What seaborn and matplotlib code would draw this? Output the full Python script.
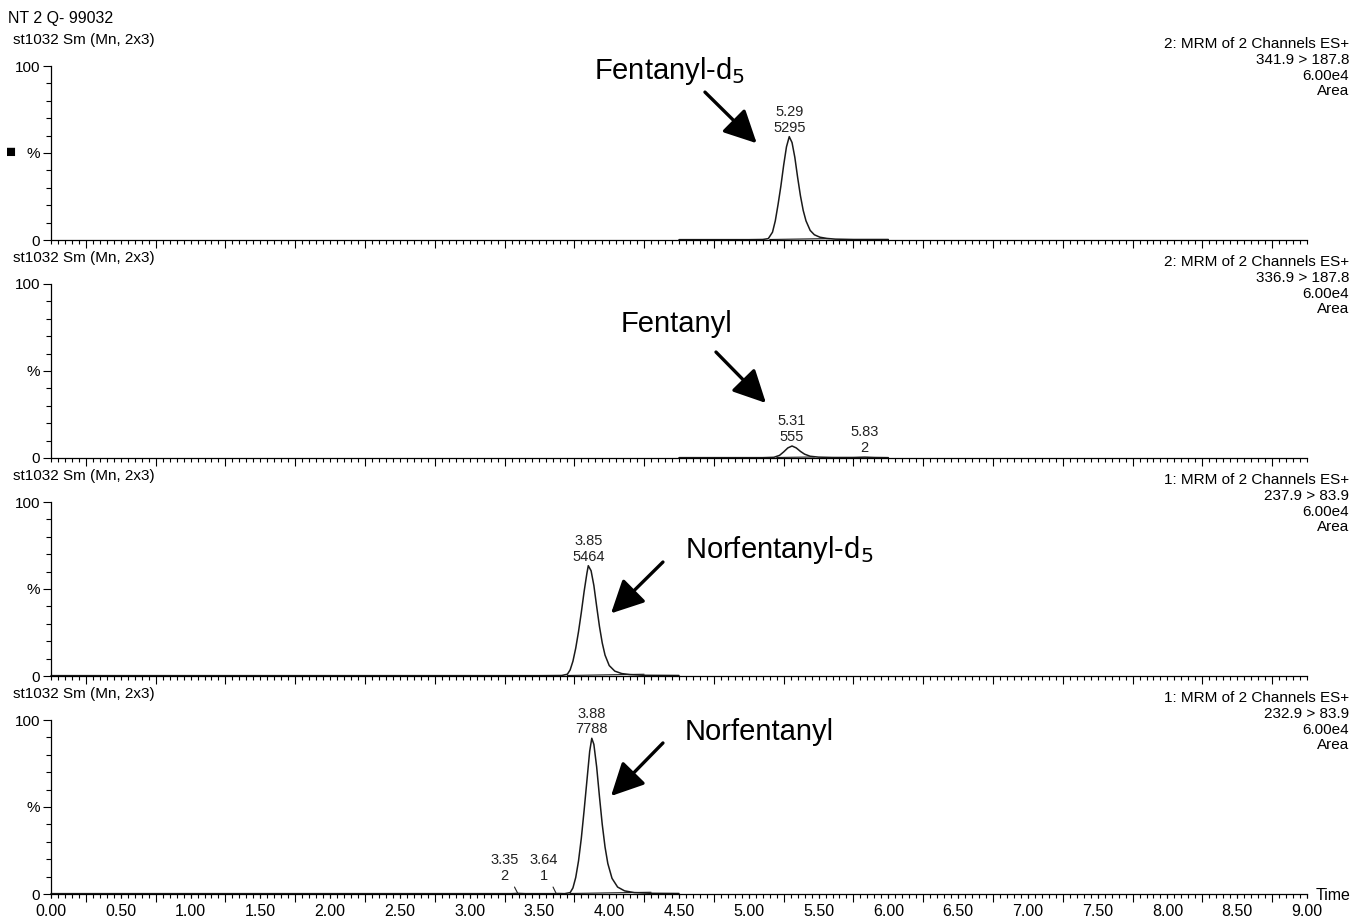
import matplotlib
matplotlib.use("Agg")
import matplotlib.pyplot as plt
import numpy as np
import pandas as pd
import seaborn as sns
from matplotlib.ticker import MultipleLocator, FixedLocator, FixedFormatter

sns.set_style("ticks")
plt.rcParams["font.family"] = ["Liberation Sans", "DejaVu Sans"]
plt.rcParams["text.color"] = "black"
plt.rcParams["xtick.color"] = "black"
plt.rcParams["ytick.color"] = "black"
plt.rcParams["axes.edgecolor"] = "black"

# ---------------- text content ----------------
sample_title = "NT 2 Q- 99032"
trace_header = "st1032 Sm (Mn, 2x3)"
compounds = ["Fentanyl-d$_5$", "Fentanyl", "Norfentanyl-d$_5$", "Norfentanyl"]
functions = ["2: MRM of 2 Channels ES+", "2: MRM of 2 Channels ES+",
             "1: MRM of 2 Channels ES+", "1: MRM of 2 Channels ES+"]
transitions = ["341.9 > 187.8", "336.9 > 187.8", "237.9 > 83.9", "232.9 > 83.9"]
full_scale = ["6.00e4", "6.00e4", "6.00e4", "6.00e4"]
y_tick_labels = ["0", "%", "100"]
x_tick_values = [0.0, 0.5, 1.0, 1.5, 2.0, 2.5, 3.0, 3.5, 4.0, 4.5,
                 5.0, 5.5, 6.0, 6.5, 7.0, 7.5, 8.0, 8.5, 9.0]

# ---------------- chromatogram traces (time min, % of full scale) ----------------
t_fd5 = [4.50, 5.00, 5.10, 5.14, 5.17, 5.19, 5.21, 5.23, 5.25, 5.27, 5.29, 5.31, 5.33,
         5.35, 5.37, 5.39, 5.41, 5.44, 5.47, 5.51, 5.56, 5.62, 5.75, 6.00]
y_fd5 = [0.2, 0.2, 0.3, 0.8, 4.5, 11, 20.5, 31, 43, 53.5, 59.4, 56, 47.5,
         36, 25.5, 17, 11, 5.5, 3, 1.6, 0.9, 0.5, 0.3, 0.3]

t_fen = [4.50, 5.10, 5.18, 5.22, 5.25, 5.28, 5.31, 5.34, 5.37, 5.40, 5.44, 5.50,
         5.60, 5.75, 5.83, 5.90, 6.00]
y_fen = [0.2, 0.2, 0.4, 1.5, 3.5, 5.8, 6.9, 5.8, 3.8, 2.2, 1.0, 0.5,
         0.3, 0.3, 0.5, 0.3, 0.2]

t_nfd5 = [0.00, 3.50, 3.66, 3.70, 3.72, 3.74, 3.76, 3.78, 3.80, 3.82, 3.84, 3.85,
          3.87, 3.89, 3.91, 3.93, 3.95, 3.97, 4.00, 4.04, 4.09, 4.15, 4.25, 4.50]
y_nfd5 = [0.2, 0.2, 0.3, 1.0, 3.5, 8.5, 16, 25.5, 36.5, 48.5, 59, 63.4,
          60.5, 52, 40, 28.5, 19, 12, 6, 2.8, 1.4, 0.8, 0.4, 0.3]

t_nf = [0.00, 3.30, 3.35, 3.40, 3.60, 3.64, 3.68, 3.72, 3.74, 3.76, 3.78, 3.80, 3.82,
        3.84, 3.86, 3.875, 3.89, 3.91, 3.93, 3.95, 3.97, 3.99, 4.02, 4.06, 4.11,
        4.18, 4.30, 4.50]
y_nf = [0.2, 0.2, 0.35, 0.2, 0.2, 0.3, 0.2, 0.8, 3.5, 9.5, 19, 32, 48,
        65, 82, 89.5, 86, 73, 56, 40, 27, 17.5, 9, 4, 1.8,
        0.8, 0.4, 0.3]

# integration baselines (start/end time, %)
base_t = [[5.15, 5.58], [5.20, 5.47], [3.70, 4.25], [3.72, 4.30]]
base_y = [[0.3, 0.8], [0.3, 0.6], [0.3, 1.0], [0.3, 1.0]]

# peak labels: (rt, area, apex time, apex %)
peaks = [
    [("5.29", "5295", 5.29, 59.4)],
    [("5.31", "555", 5.31, 6.9), ("5.83", "2", 5.83, 0.5)],
    [("3.85", "5464", 3.85, 63.4)],
    [("3.88", "7788", 3.875, 89.5)],
]
# small labelled peaks with leader lines (rt, area, point time, point %, label time, label %)
minor_peaks = [("3.35", "2", 3.345, 0.3, 3.25, 6.6), ("3.64", "1", 3.62, 0.3, 3.53, 6.6)]

# compound label (time, %, ha) and arrow (tail t, tail %, head t, head %)
comp_label_pos = [(4.43, 92.4, "center"), (4.48, 72.4, "center"),
                  (4.543, 67.8, "left"), (4.543, 88.5, "left")]
arrows = [(4.686, 85.0, 5.057, 55.6), (4.765, 60.9, 5.123, 31.6),
          (4.385, 65.5, 4.013, 36.0), (4.385, 86.8, 4.013, 56.3)]

traces = [(t_fd5, y_fd5), (t_fen, y_fen), (t_nfd5, y_nfd5), (t_nf, y_nf)]

# ---------------- layout ----------------
W, H = 1351, 918
left_px, right_px = 51, 1307
tops = [66, 284, 502, 720]
ph = 174
line_col = "#1a1a1a"

fig = plt.figure(figsize=(W / 100, H / 100), dpi=100)
fig.patch.set_facecolor("white")

fig.text(8 / W, 1 - 18 / H, sample_title, ha="left", va="center", fontsize=11.5)

for i in range(4):
    top = tops[i]
    ax = fig.add_axes([left_px / W, 1 - (top + ph) / H, (right_px - left_px) / W, ph / H])
    ax.set_facecolor("none")
    df = pd.DataFrame({"time": traces[i][0], "pct": traces[i][1]})
    sns.lineplot(data=df, x="time", y="pct", ax=ax, color=line_col, lw=1.1,
                 estimator=None, clip_on=False)
    dfb = pd.DataFrame({"time": base_t[i], "pct": base_y[i]})
    sns.lineplot(data=dfb, x="time", y="pct", ax=ax, color=line_col, lw=0.8,
                 estimator=None, clip_on=False)
    ax.set_xlim(0, 9)
    ax.set_ylim(0, 100)
    ax.set_xlabel("")
    ax.set_ylabel("")
    for s in ["top", "right"]:
        ax.spines[s].set_visible(False)
    for s in ["left", "bottom"]:
        ax.spines[s].set_color("black")
        ax.spines[s].set_linewidth(0.9)

    # x ticks: tall at quarter positions, small every 0.05
    ax.xaxis.set_major_locator(FixedLocator(list(np.arange(0.25, 9, 0.5))))
    ax.xaxis.set_minor_locator(MultipleLocator(0.05))
    ax.tick_params(axis="x", which="major", length=6, width=0.8, direction="out",
                   bottom=True, labelbottom=False, color="black")
    ax.tick_params(axis="x", which="minor", length=3.2, width=0.8, direction="out",
                   bottom=True, color="black")
    # y ticks
    ax.yaxis.set_major_locator(FixedLocator([0, 50, 100]))
    ax.yaxis.set_major_formatter(FixedFormatter(y_tick_labels))
    ax.yaxis.set_minor_locator(MultipleLocator(10))
    ax.tick_params(axis="y", which="major", length=6, width=0.8, direction="out",
                   left=True, labelsize=11, pad=2, color="black")
    ax.tick_params(axis="y", which="minor", length=3.5, width=0.8, direction="out",
                   left=True, color="black")

    if i == 3:
        sec = ax.secondary_xaxis("bottom")
        sec.xaxis.set_major_locator(FixedLocator(x_tick_values))
        sec.xaxis.set_major_formatter(matplotlib.ticker.FormatStrFormatter("%.2f"))
        sec.tick_params(axis="x", length=3.2, width=0.8, labelsize=11.5, pad=4,
                        color="black", labelcolor="black")
        sec.spines["bottom"].set_visible(False)
        fig.text(1316 / W, 1 - 896 / H, "Time", ha="left", va="center", fontsize=11.5)

    # headers
    fig.text(13 / W, 1 - (top - 26) / H, trace_header, ha="left", va="center", fontsize=11)
    right_lines = [functions[i], transitions[i], full_scale[i], "Area"]
    for k, s in enumerate(right_lines):
        fig.text(1349 / W, 1 - (top - 22 + 15.8 * k) / H, s, ha="right",
                 va="center", fontsize=11)

    # peak labels
    for rt, area, pt, ph_ in peaks[i]:
        ax.annotate(f"{rt}\n{area}", xy=(pt, ph_), xytext=(0, 1.5),
                    textcoords="offset points", ha="center", va="bottom",
                    fontsize=10.5, linespacing=1.15, color="#222222")
    if i == 3:
        for rt, area, pt, py, lt, ly in minor_peaks:
            ax.annotate(f"{rt}\n{area}", xy=(pt, py), xytext=(lt, ly),
                        ha="center", va="bottom", fontsize=10.5, linespacing=1.15,
                        color="#222222",
                        arrowprops=dict(arrowstyle="-", lw=0.8, color="#222222",
                                        shrinkA=1, shrinkB=0))

    # compound labels and arrows
    lx, ly, ha = comp_label_pos[i]
    ax.text(lx, ly, compounds[i], ha=ha, va="baseline", fontsize=21, clip_on=False)
    tx, ty, hx, hy = arrows[i]
    ax.annotate("", xy=(hx, hy), xytext=(tx, ty),
                arrowprops=dict(arrowstyle="-|>,head_length=1.0,head_width=0.5",
                                lw=2.4, color="black", shrinkA=0, shrinkB=0,
                                mutation_scale=20))

# small square marker next to first % label
fig.text(11 / W, 1 - 152 / H, "\u25A0", ha="center", va="center", fontsize=12)

fig.savefig("out.png", dpi=100, facecolor="white")
